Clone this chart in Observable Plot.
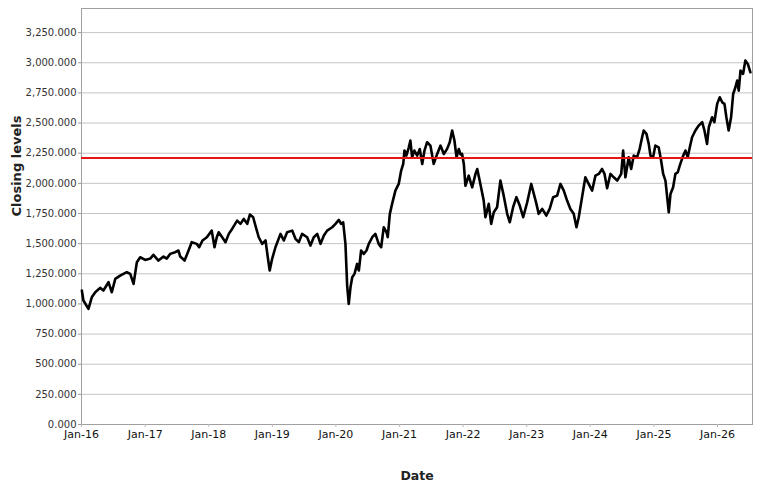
<!DOCTYPE html>
<html>
<head>
<meta charset="utf-8">
<script src="https://cdn.jsdelivr.net/npm/d3@7"></script>
<script src="https://cdn.jsdelivr.net/npm/@observablehq/plot@0.6"></script>
<style>
  html, body { margin: 0; padding: 0; background: #fff; }
  #chart { width: 769px; height: 489px; }
</style>
</head>
<body>
<div id="chart"></div>
<script>
// ---- data ----
const dates = [
  "2016-01-03","2016-01-12","2016-02-10","2016-02-29","2016-03-20","2016-04-17","2016-05-06","2016-06-04","2016-06-23","2016-07-13",
  "2016-08-10","2016-09-17","2016-10-07","2016-10-26","2016-11-14","2016-12-03","2017-01-01","2017-01-30","2017-02-17","2017-03-18",
  "2017-04-16","2017-05-05","2017-05-24","2017-06-22","2017-07-11","2017-07-21","2017-08-15","2017-09-07","2017-09-25","2017-10-24",
  "2017-11-07","2017-11-26","2017-12-21","2018-01-18","2018-02-03","2018-02-16","2018-02-27","2018-03-19","2018-04-07","2018-04-26",
  "2018-05-15","2018-06-13","2018-07-02","2018-07-21","2018-08-10","2018-08-25","2018-09-13","2018-09-26","2018-10-15","2018-11-04",
  "2018-11-23","2018-12-06","2018-12-17","2018-12-31","2019-01-19","2019-02-17","2019-03-08","2019-03-27","2019-04-25","2019-05-14",
  "2019-06-02","2019-06-21","2019-07-20","2019-08-08","2019-08-27","2019-09-16","2019-10-05","2019-10-24","2019-11-12","2019-12-11",
  "2019-12-30","2020-01-18","2020-01-31","2020-02-12","2020-02-25","2020-03-06","2020-03-15","2020-03-25","2020-04-04","2020-04-17",
  "2020-05-02","2020-05-12","2020-05-25","2020-06-09","2020-06-25","2020-07-08","2020-07-28","2020-08-15","2020-09-03","2020-09-17",
  "2020-10-02","2020-10-18","2020-10-25","2020-11-06","2020-11-19","2020-12-08","2020-12-27","2021-01-10","2021-01-22","2021-01-29",
  "2021-02-09","2021-02-23","2021-03-04","2021-03-14","2021-03-27","2021-04-12","2021-04-27","2021-05-11","2021-05-24","2021-06-08",
  "2021-06-27","2021-07-16","2021-08-05","2021-08-24","2021-09-12","2021-10-01","2021-10-16","2021-10-30","2021-11-12","2021-11-24",
  "2021-12-07","2021-12-17","2021-12-26","2022-01-05","2022-01-14","2022-02-02","2022-02-22","2022-03-13","2022-03-23","2022-04-10",
  "2022-04-29","2022-05-09","2022-05-28","2022-06-11","2022-06-26","2022-07-15","2022-08-03","2022-08-22","2022-09-11","2022-09-26",
  "2022-10-15","2022-11-03","2022-11-22","2022-12-12","2023-01-04","2023-01-27","2023-02-11","2023-02-26","2023-03-11","2023-03-31",
  "2023-04-24","2023-05-13","2023-06-02","2023-06-25","2023-07-14","2023-08-02","2023-08-21","2023-09-09","2023-09-28","2023-10-14",
  "2023-10-27","2023-11-15","2023-12-04","2023-12-23","2024-01-12","2024-01-31","2024-02-19","2024-03-09","2024-03-23","2024-04-07",
  "2024-04-26","2024-05-15","2024-06-04","2024-06-27","2024-07-08","2024-07-21","2024-08-09","2024-08-23","2024-09-07","2024-09-26",
  "2024-10-11","2024-10-25","2024-11-03","2024-11-19","2024-12-02","2024-12-12","2024-12-27","2025-01-09","2025-01-28","2025-02-11",
  "2025-02-23","2025-03-08","2025-03-18","2025-03-27","2025-04-06","2025-04-21","2025-05-04","2025-05-18","2025-05-29","2025-06-18",
  "2025-07-01","2025-07-14","2025-07-26","2025-08-08","2025-08-27","2025-09-15","2025-10-05","2025-10-18","2025-11-02","2025-11-12",
  "2025-12-01","2025-12-14","2025-12-30","2026-01-14","2026-01-28","2026-02-10","2026-02-21","2026-03-06","2026-03-20","2026-04-01",
  "2026-04-14","2026-04-24","2026-05-03","2026-05-13","2026-05-28","2026-06-10","2026-06-24","2026-07-09"
];
const closes = [
  1111,1028,959,1055,1097,1133,1111,1180,1097,1208,
  1235,1263,1249,1166,1346,1387,1365,1376,1407,1360,
  1393,1376,1415,1429,1443,1393,1360,1443,1512,1498,
  1471,1526,1553,1608,1470,1553,1594,1553,1512,1581,
  1622,1691,1664,1705,1664,1741,1719,1650,1553,1498,
  1526,1387,1277,1374,1470,1581,1526,1594,1608,1540,
  1512,1581,1553,1484,1553,1581,1498,1567,1608,1636,
  1664,1697,1664,1677,1498,1150,1000,1138,1221,1249,
  1332,1277,1443,1415,1443,1498,1553,1581,1498,1470,
  1636,1594,1553,1747,1830,1940,1995,2106,2161,2272,
  2230,2299,2355,2216,2272,2230,2285,2161,2272,2341,
  2313,2161,2244,2313,2244,2286,2341,2438,2355,2216,
  2285,2240,2244,2161,1980,2064,1967,2078,2119,1995,
  1857,1719,1830,1664,1760,1802,2023,1898,1747,1677,
  1802,1885,1816,1719,1843,1995,1912,1830,1747,1788,
  1733,1788,1885,1898,1995,1940,1857,1788,1747,1636,
  1719,1885,2050,1995,1940,2064,2078,2119,2078,1960,
  2078,2050,2023,2078,2272,2050,2216,2119,2230,2216,
  2286,2382,2438,2410,2327,2230,2216,2313,2299,2189,
  2078,2023,1885,1760,1912,1967,2078,2092,2147,2230,
  2272,2216,2299,2382,2438,2479,2507,2438,2327,2465,
  2548,2507,2659,2714,2672,2659,2548,2438,2548,2741,
  2797,2852,2769,2935,2908,3018,2990,2921
];
const threshold = 2210;
const yTicks = [0, 250, 500, 750, 1000, 1250, 1500, 1750, 2000, 2250, 2500, 2750, 3000, 3250];
const xTickYears = [2016, 2017, 2018, 2019, 2020, 2021, 2022, 2023, 2024, 2025, 2026];
const xLabel = "Date";
const yLabel = "Closing levels";

// ---- build table ----
const parse = d3.utcParse("%Y-%m-%d");
const data = dates.map((d, i) => ({date: parse(d), close: closes[i]}));
const xTicks = xTickYears.map(y => new Date(Date.UTC(y, 0, 1)));
const fmtY = d3.format(",.3f");
const fmtX = d => "Jan-" + String(d.getUTCFullYear() % 100).padStart(2, "0");

const chart = Plot.plot({
  width: 769,
  height: 489,
  marginLeft: 81,
  marginRight: 17,
  marginTop: 8,
  marginBottom: 65,
  style: {fontFamily: "'DejaVu Sans', sans-serif", background: "#fff", overflow: "visible"},
  x: {type: "utc", domain: [new Date(Date.UTC(2016, 0, 1)), new Date(Date.UTC(2026, 6, 21))]},
  y: {domain: [0, 3450]},
  marks: [
    Plot.gridY(yTicks.filter(v => v > 0), {stroke: "#c4c4c4", strokeOpacity: 1, strokeWidth: 1}),
    Plot.frame({stroke: "#a0a0a0", strokeWidth: 1}),
    Plot.axisY(yTicks, {tickFormat: fmtY, tickSize: 3, tickPadding: 2, fontSize: 10, fill: "#333", stroke: "#999", label: null}),
    Plot.axisX(xTicks, {tickFormat: fmtX, tickSize: 3, tickPadding: 3, fontSize: 11, fill: "#111", stroke: "#bbb", label: null}),
    Plot.lineY(data, {x: "date", y: "close", stroke: "#000", strokeWidth: 2.6, strokeLinejoin: "round"}),
    Plot.ruleY([threshold], {stroke: "#e81414", strokeWidth: 2}),
    Plot.text([xLabel], {frameAnchor: "bottom", dy: 55, fontSize: 12.5, fontWeight: "bold", fill: "#222"}),
    Plot.text([yLabel], {frameAnchor: "left", dx: -65, rotate: -90, fontSize: 13, fontWeight: "bold", fill: "#222"})
  ]
});
document.getElementById("chart").appendChild(chart);
</script>
</body>
</html>
